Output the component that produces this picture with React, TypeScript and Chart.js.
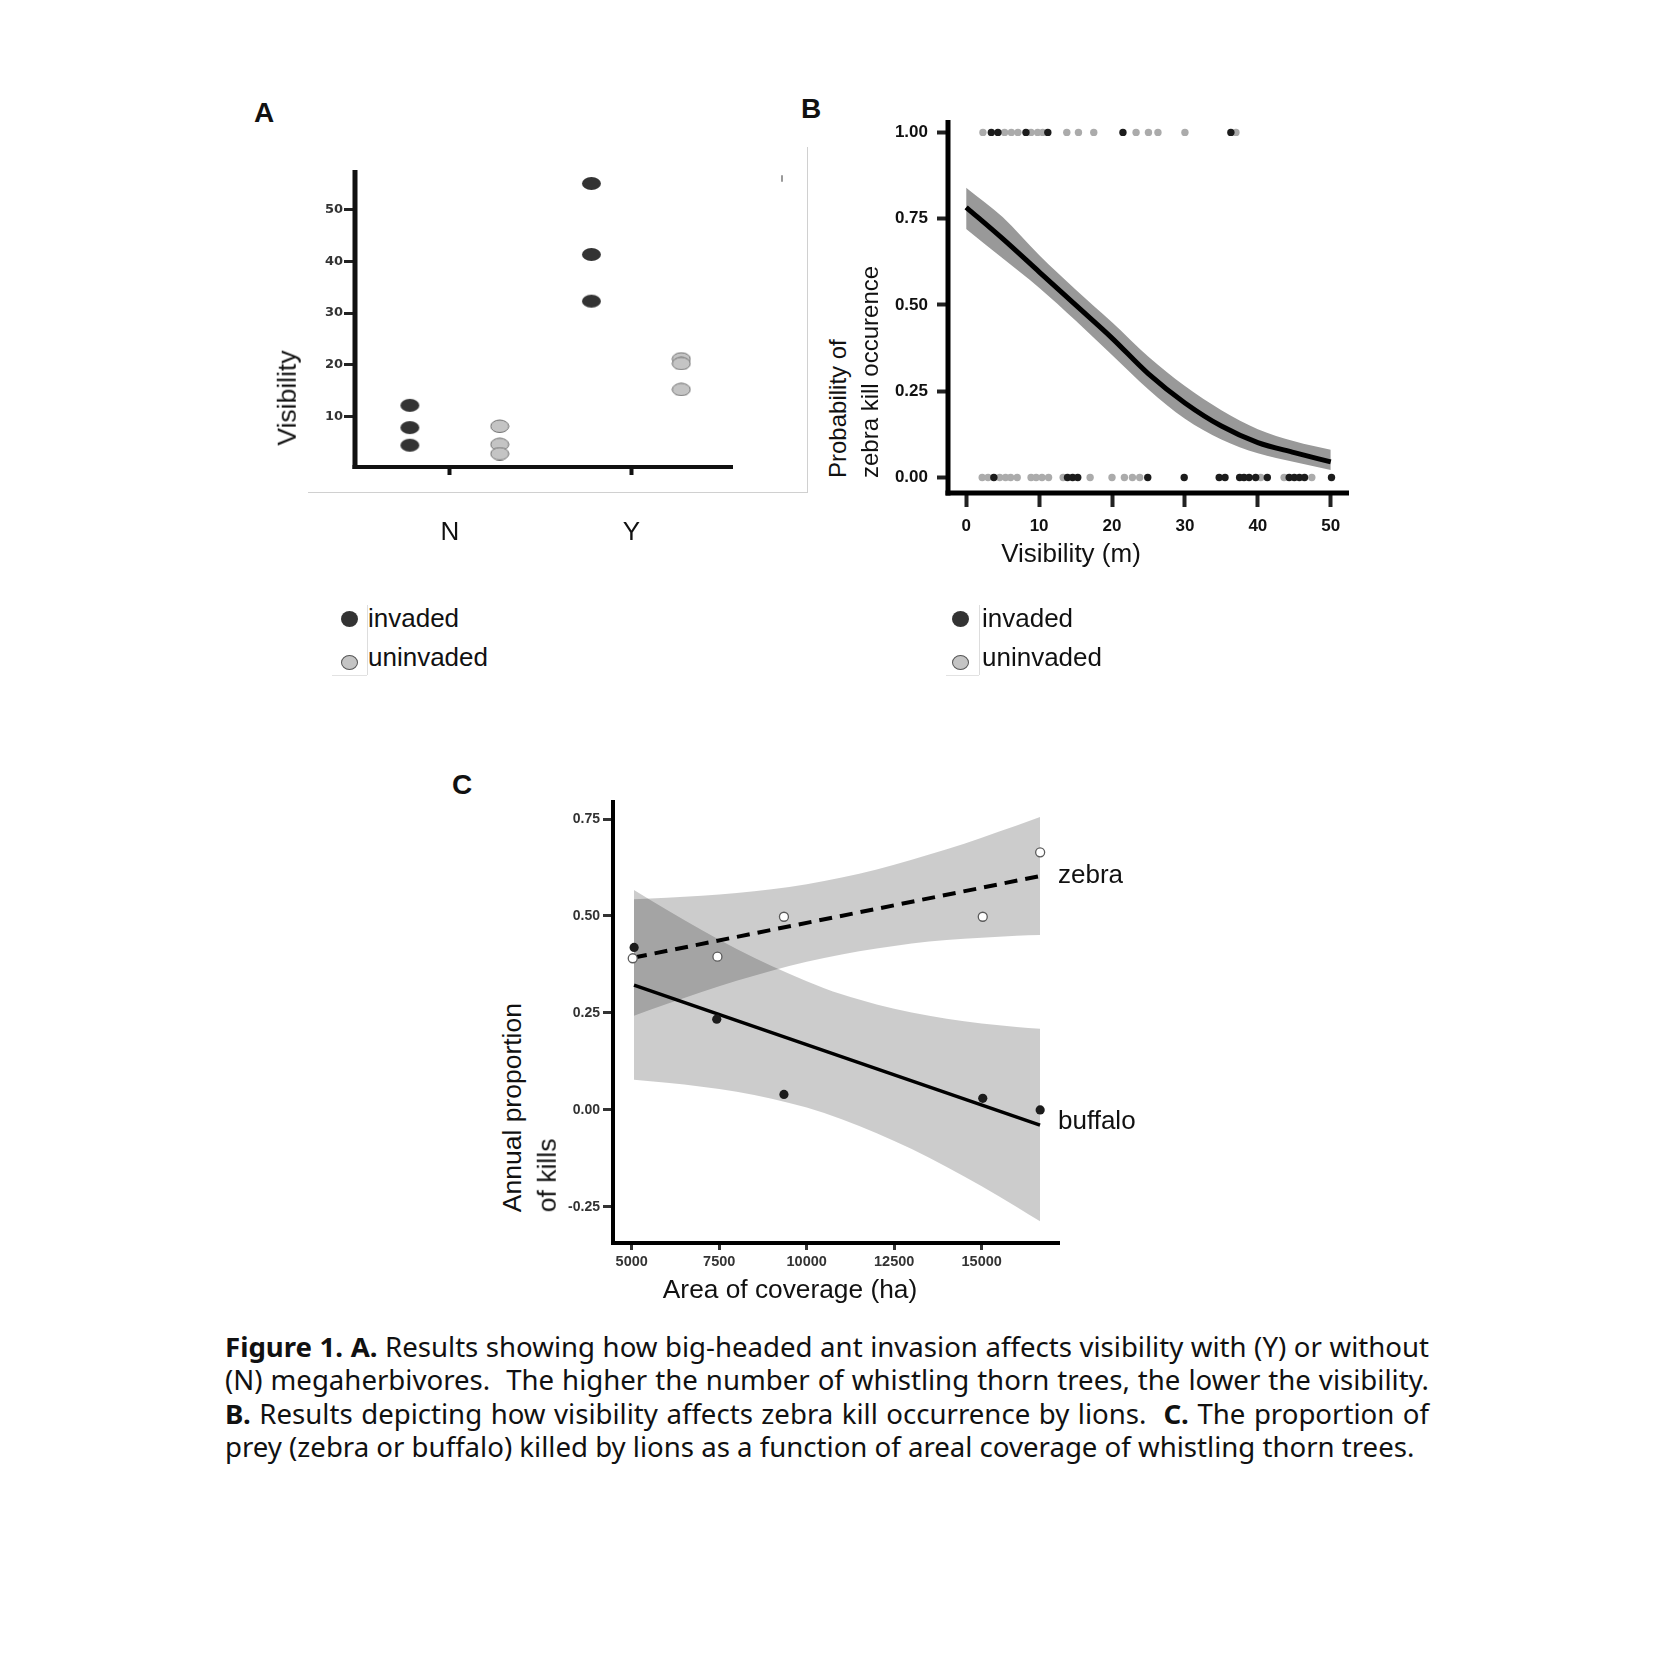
import React, { useEffect, useRef } from 'react';
import { Chart, registerables } from 'chart.js';

Chart.register(...registerables);

// ---------------- Panel A data ----------------
const groupsA = ['N', 'Y'];
const groupPosA = [1, 2];
const invadedN = [12.2, 7.9, 4.5];
const invadedY = [55.0, 41.3, 32.3];
const uninvadedN = [8.2, 4.7, 2.9];
const uninvadedY = [21.2, 20.3, 15.3];
const yTicksA = [10, 20, 30, 40, 50];

// ---------------- Panel B data ----------------
const visX = [0, 5, 10, 15, 20, 25, 30, 35, 40, 45, 50];
const fitB = [0.783, 0.692, 0.596, 0.5, 0.404, 0.3, 0.216, 0.149, 0.101, 0.072, 0.045];
const upperB = [0.84, 0.755, 0.645, 0.545, 0.45, 0.35, 0.265, 0.195, 0.14, 0.105, 0.08];
const lowerB = [0.72, 0.635, 0.55, 0.455, 0.355, 0.255, 0.17, 0.11, 0.07, 0.045, 0.022];
const killInvaded = [3.45, 4.36, 8.2, 11.2, 21.5, 36.3];
const killUninvaded = [2.3, 5.27, 6.2, 7.1, 8.9, 9.8, 10.5, 13.8, 15.4, 17.5, 23.3, 25.0, 26.3, 30.0, 37.0];
const noKillInvaded = [3.8, 13.9, 14.6, 15.3, 24.9, 29.9, 34.7, 35.5, 37.5, 38.1, 38.8, 39.7, 41.3, 44.3, 45.0, 45.7, 46.4, 50.1];
const noKillUninvaded = [2.2, 3.0, 4.6, 5.4, 6.1, 7.0, 8.9, 9.6, 10.4, 11.3, 13.3, 17.0, 20.0, 21.7, 22.8, 23.8, 40.4, 43.6, 47.4];
const xTicksB = [0, 10, 20, 30, 40, 50];
const yTicksB = [0, 0.25, 0.5, 0.75, 1];

// ---------------- Panel C data ----------------
const coverageZebra = [5030, 7450, 9350, 15030, 16670];
const zebraProp = [0.391, 0.395, 0.498, 0.498, 0.664];
const coverageBuffalo = [5070, 7430, 9350, 15030, 16670];
const buffaloProp = [0.419, 0.234, 0.04, 0.03, 0.0];
const fitXC = [5066, 16666];
const zebraFit = [0.393, 0.603];
const buffaloFit = [0.322, -0.039];
const bandXC = [5066, 6000, 7000, 8000, 9000, 10000, 11000, 12000, 13000, 14000, 15000, 16000, 16666];
const zebraUpper = [0.543, 0.547, 0.552, 0.559, 0.569, 0.582, 0.599, 0.62, 0.645, 0.672, 0.702, 0.733, 0.755];
const zebraLower = [0.243, 0.273, 0.304, 0.333, 0.359, 0.382, 0.401, 0.416, 0.429, 0.438, 0.444, 0.449, 0.451];
const buffaloUpper = [0.567, 0.516, 0.464, 0.415, 0.371, 0.332, 0.298, 0.272, 0.251, 0.235, 0.223, 0.214, 0.209];
const buffaloLower = [0.078, 0.07, 0.06, 0.047, 0.029, 0.006, -0.024, -0.06, -0.101, -0.147, -0.197, -0.25, -0.287];
const xTicksC = [5000, 7500, 10000, 12500, 15000];
const yTicksC = [-0.25, 0, 0.25, 0.5, 0.75];

// ---------------- helpers ----------------
const ARIAL = '"Liberation Sans", Arial, Helvetica, sans-serif';
const DEJAVU = '"DejaVu Sans", Verdana, sans-serif';
const DODGE_INV = -0.22;
const DODGE_UNINV = 0.275;

const axisLinePlugin = {
  id: 'axisLines',
  afterDraw(chart: any, _args: any, opts: any) {
    const { ctx, chartArea } = chart;
    const { left, right, top, bottom } = chartArea;
    ctx.save();
    ctx.strokeStyle = opts.color || '#000';
    ctx.lineCap = 'butt';
    ctx.lineWidth = opts.yWidth;
    ctx.beginPath();
    ctx.moveTo(left, top);
    ctx.lineTo(left, bottom + opts.xWidth / 2);
    ctx.stroke();
    ctx.lineWidth = opts.xWidth;
    ctx.beginPath();
    ctx.moveTo(left - opts.yWidth / 2, bottom);
    ctx.lineTo(right, bottom);
    ctx.stroke();
    ctx.restore();
  },
};

function ellipseStyle(w: number, h: number, fill: string, stroke?: string) {
  const c = document.createElement('canvas');
  c.width = w + 2;
  c.height = h + 2;
  const g = c.getContext('2d') as CanvasRenderingContext2D;
  g.beginPath();
  g.ellipse((w + 2) / 2, (h + 2) / 2, w / 2, h / 2, 0, 0, Math.PI * 2);
  g.fillStyle = fill;
  g.fill();
  if (stroke) {
    g.lineWidth = 1;
    g.strokeStyle = stroke;
    g.stroke();
  }
  return c;
}

type Rect = { x: number; y: number; w: number; h: number };
type Area = { l: number; t: number; r: number; b: number };

function baseOptions(rect: Rect, area: Area, axisOpts: any) {
  return {
    animation: false,
    responsive: false,
    maintainAspectRatio: false,
    devicePixelRatio: 1,
    events: [],
    layout: {
      padding: { left: 0, top: area.t - rect.y, right: rect.x + rect.w - area.r, bottom: 0 },
    },
    plugins: {
      legend: { display: false },
      tooltip: { enabled: false },
      filler: { drawTime: 'beforeDatasetsDraw' },
      axisLines: axisOpts,
    },
  };
}

function axis(o: any) {
  return {
    type: 'linear',
    min: o.min,
    max: o.max,
    afterBuildTicks: (s: any) => {
      s.ticks = o.ticks.map((v: number) => ({ value: v }));
    },
    afterFit: (s: any) => {
      if (o.isX) s.height = o.size;
      else s.width = o.size;
    },
    border: { display: false },
    grid: {
      display: true,
      drawOnChartArea: false,
      drawTicks: true,
      tickLength: o.tickLength,
      tickWidth: o.tickWidth,
      tickColor: o.tickColor,
    },
    ticks: {
      autoSkip: false,
      maxRotation: 0,
      minRotation: 0,
      padding: o.padding,
      color: o.color,
      font: o.font,
      callback: o.callback,
    },
  };
}

function ChartCanvas({ rect, build }: { rect: Rect; build: () => any }) {
  const ref = useRef<HTMLCanvasElement | null>(null);
  useEffect(() => {
    if (!ref.current) return;
    const chart = new Chart(ref.current, build());
    return () => chart.destroy();
  }, []);
  return (
    <canvas
      ref={ref}
      width={rect.w}
      height={rect.h}
      style={{ position: 'absolute', left: rect.x, top: rect.y, width: rect.w, height: rect.h }}
    />
  );
}

// ---------------- Panel A ----------------
const rectA: Rect = { x: 290, y: 140, w: 470, h: 420 };
const areaA: Area = { l: 355, t: 170, r: 733, b: 467 };

function buildA() {
  const inv = ellipseStyle(19, 13, '#333333');
  const un = ellipseStyle(18, 12.5, '#c4c4c4', '#6e6e6e');
  const pts = (vals: number[], gi: number, dodge: number) =>
    vals.map((v) => ({ x: groupPosA[gi] + dodge, y: v }));
  return {
    type: 'line',
    data: {
      datasets: [
        {
          label: 'invaded',
          data: [...pts(invadedN, 0, DODGE_INV), ...pts(invadedY, 1, DODGE_INV)],
          showLine: false,
          pointStyle: inv,
          pointRadius: 9,
        },
        {
          label: 'uninvaded',
          data: [...pts(uninvadedN, 0, DODGE_UNINV), ...pts(uninvadedY, 1, DODGE_UNINV)],
          showLine: false,
          pointStyle: un,
          pointRadius: 9,
        },
      ],
    },
    options: {
      ...baseOptions(rectA, areaA, { yWidth: 5, xWidth: 4, color: '#111' }),
      scales: {
        x: axis({
          isX: true, size: rectA.y + rectA.h - areaA.b, min: 0.478, max: 2.56, ticks: groupPosA,
          tickLength: 8, tickWidth: 4, tickColor: '#111', padding: 42, color: '#111',
          font: { family: ARIAL, size: 26 },
          callback: (v: number) => groupsA[groupPosA.indexOf(v)],
        }),
        y: axis({
          isX: false, size: areaA.l - rectA.x, min: 0.3, max: 57.6, ticks: yTicksA,
          tickLength: 11, tickWidth: 3, tickColor: '#222', padding: 1, color: '#333',
          font: { family: DEJAVU, size: 13, weight: 'bold' },
          callback: (v: number) => String(v),
        }),
      },
    },
    plugins: [axisLinePlugin],
  };
}

// ---------------- Panel B ----------------
const rectB: Rect = { x: 880, y: 95, w: 500, h: 470 };
const areaB: Area = { l: 948, t: 120, r: 1349, b: 493 };

function buildB() {
  const xy = (xs: number[], ys: number[]) => xs.map((x, i) => ({ x, y: ys[i] }));
  const rug = (xs: number[], y: number) => xs.map((x) => ({ x, y }));
  return {
    type: 'line',
    data: {
      datasets: [
        { label: 'invaded kill', data: rug(killInvaded, 1), showLine: false, pointRadius: 3.7, pointBackgroundColor: '#1c1c1c', pointBorderWidth: 0, order: 0 },
        { label: 'invaded no kill', data: rug(noKillInvaded, 0), showLine: false, pointRadius: 3.7, pointBackgroundColor: '#1c1c1c', pointBorderWidth: 0, order: 0 },
        { label: 'uninvaded kill', data: rug(killUninvaded, 1), showLine: false, pointRadius: 3.7, pointBackgroundColor: '#ababab', pointBorderWidth: 0, order: 1 },
        { label: 'uninvaded no kill', data: rug(noKillUninvaded, 0), showLine: false, pointRadius: 3.7, pointBackgroundColor: '#ababab', pointBorderWidth: 0, order: 1 },
        { label: 'fit', data: xy(visX, fitB), borderColor: '#000', borderWidth: 5, pointRadius: 0, tension: 0.4, cubicInterpolationMode: 'monotone', fill: false, order: 2 },
        { label: 'upper', data: xy(visX, upperB), borderWidth: 0, pointRadius: 0, cubicInterpolationMode: 'monotone', fill: '+1', backgroundColor: '#999999', order: 3 },
        { label: 'lower', data: xy(visX, lowerB), borderWidth: 0, pointRadius: 0, cubicInterpolationMode: 'monotone', fill: false, order: 3 },
      ],
    },
    options: {
      ...baseOptions(rectB, areaB, { yWidth: 5, xWidth: 5, color: '#000' }),
      scales: {
        x: axis({
          isX: true, size: rectB.y + rectB.h - areaB.b, min: -2.49, max: 52.5, ticks: xTicksB,
          tickLength: 14, tickWidth: 4, tickColor: '#222', padding: 9, color: '#111',
          font: { family: ARIAL, size: 17, weight: 'bold' },
          callback: (v: number) => String(v),
        }),
        y: axis({
          isX: false, size: areaB.l - rectB.x, min: -0.045, max: 1.036, ticks: yTicksB,
          tickLength: 11, tickWidth: 4, tickColor: '#222', padding: 9, color: '#111',
          font: { family: ARIAL, size: 17, weight: 'bold' },
          callback: (v: number) => v.toFixed(2),
        }),
      },
    },
    plugins: [axisLinePlugin],
  };
}

// ---------------- Panel C ----------------
const rectC: Rect = { x: 560, y: 780, w: 520, h: 500 };
const areaC: Area = { l: 613, t: 800, r: 1060, b: 1243 };

function buildC() {
  const xy = (xs: number[], ys: number[]) => xs.map((x, i) => ({ x, y: ys[i] }));
  const band = 'rgba(0,0,0,0.2)';
  return {
    type: 'line',
    data: {
      datasets: [
        { label: 'zebra', data: xy(coverageZebra, zebraProp), showLine: false, pointRadius: 4.5, pointBackgroundColor: '#ffffff', pointBorderColor: '#5a5a5a', pointBorderWidth: 1.3, order: 0 },
        { label: 'buffalo', data: xy(coverageBuffalo, buffaloProp), showLine: false, pointRadius: 4.6, pointBackgroundColor: '#1c1c1c', pointBorderWidth: 0, order: 0 },
        { label: 'zebra fit', data: xy(fitXC, zebraFit), borderColor: '#000', borderWidth: 4, borderDash: [13, 8], pointRadius: 0, fill: false, order: 1 },
        { label: 'buffalo fit', data: xy(fitXC, buffaloFit), borderColor: '#000', borderWidth: 3.5, pointRadius: 0, fill: false, order: 1 },
        { label: 'zebra upper', data: xy(bandXC, zebraUpper), borderWidth: 0, pointRadius: 0, cubicInterpolationMode: 'monotone', fill: '+1', backgroundColor: band, order: 2 },
        { label: 'zebra lower', data: xy(bandXC, zebraLower), borderWidth: 0, pointRadius: 0, cubicInterpolationMode: 'monotone', fill: false, order: 2 },
        { label: 'buffalo upper', data: xy(bandXC, buffaloUpper), borderWidth: 0, pointRadius: 0, cubicInterpolationMode: 'monotone', fill: '+1', backgroundColor: band, order: 2 },
        { label: 'buffalo lower', data: xy(bandXC, buffaloLower), borderWidth: 0, pointRadius: 0, cubicInterpolationMode: 'monotone', fill: false, order: 2 },
      ],
    },
    options: {
      ...baseOptions(rectC, areaC, { yWidth: 4, xWidth: 4, color: '#000' }),
      scales: {
        x: axis({
          isX: true, size: rectC.y + rectC.h - areaC.b, min: 4466, max: 17237, ticks: xTicksC,
          tickLength: 7, tickWidth: 3, tickColor: '#333', padding: 3, color: '#333',
          font: { family: ARIAL, size: 14.5, weight: 'bold' },
          callback: (v: number) => String(v),
        }),
        y: axis({
          isX: false, size: areaC.l - rectC.x, min: -0.343, max: 0.799, ticks: yTicksC,
          tickLength: 10, tickWidth: 3, tickColor: '#333', padding: 3, color: '#333',
          font: { family: ARIAL, size: 14, weight: 'bold' },
          callback: (v: number) => v.toFixed(2),
        }),
      },
    },
    plugins: [axisLinePlugin],
  };
}

// ---------------- HTML text helpers ----------------
function Txt({ x, y, size, children, weight = 400, family = ARIAL, color = '#111', anchor = 'center' }: any) {
  const style: any = {
    position: 'absolute', left: x, top: y, fontFamily: family, fontSize: size, fontWeight: weight,
    color, lineHeight: 1, whiteSpace: 'nowrap',
    transform: anchor === 'center' ? 'translate(-50%,-50%)' : 'translate(0,-50%)',
  };
  return <div style={style}>{children}</div>;
}

function VTxt({ x, y, size, children, color = '#111', anchor = 'start' }: any) {
  const style: any = {
    position: 'absolute', fontFamily: ARIAL, fontSize: size, color, lineHeight: 1, whiteSpace: 'nowrap',
  };
  if (anchor === 'center') {
    style.left = x;
    style.top = y;
    style.transform = 'translate(-50%,-50%) rotate(-90deg)';
  } else {
    style.left = x;
    style.top = y - size / 2;
    style.transformOrigin = '0 50%';
    style.transform = 'rotate(-90deg)';
  }
  return <div style={style}>{children}</div>;
}

function Dot({ x, y, w, h, fill, stroke }: any) {
  return (
    <div
      style={{
        position: 'absolute', left: x - w / 2, top: y - h / 2, width: w, height: h, borderRadius: '50%',
        background: fill, boxSizing: 'border-box', border: stroke ? `1.3px solid ${stroke}` : 'none',
      }}
    />
  );
}

function Legend({ dotX, textX, lineX, lineLeft }: any) {
  return (
    <>
      <Dot x={dotX} y={619} w={17} h={16} fill="#333333" />
      <Dot x={dotX} y={662} w={17} h={15} fill="#c4c4c4" stroke="#555" />
      <Txt x={textX} y={618} size={26} anchor="start">invaded</Txt>
      <Txt x={textX} y={657} size={26} anchor="start">uninvaded</Txt>
      <div style={{ position: 'absolute', left: lineX, top: 605, width: 1, height: 70, background: '#dddddd' }} />
      <div style={{ position: 'absolute', left: lineLeft, top: 675, width: lineX - lineLeft, height: 1, background: '#e2e2e2' }} />
    </>
  );
}

const captionLines = [
  [<b key="a">Figure 1. A.</b>, ' Results showing how big-headed ant invasion affects visibility with (Y) or without'],
  ['(N) megaherbivores.\u00a0 The higher the number of whistling thorn trees, the lower the visibility.'],
  [<b key="b">B.</b>, ' Results depicting how visibility affects zebra kill occurrence by lions.\u00a0 ', <b key="c">C.</b>, ' The proportion of'],
  ['prey (zebra or buffalo) killed by lions as a function of areal coverage of whistling thorn trees.'],
];

export default function App() {
  return (
    <div style={{ position: 'absolute', left: 0, top: 0, width: 1654, height: 1672, overflow: 'hidden', background: '#fff' }}>
      {/* Panel A frame */}
      <div style={{ position: 'absolute', left: 308, top: 492, width: 499, height: 1, background: '#d0d0d0' }} />
      <div style={{ position: 'absolute', left: 807, top: 147, width: 1, height: 346, background: '#d0d0d0' }} />
      <div style={{ position: 'absolute', left: 781, top: 175, width: 2, height: 7, borderRadius: 2, background: '#9a9a9a' }} />

      <ChartCanvas rect={rectA} build={buildA} />
      <ChartCanvas rect={rectB} build={buildB} />
      <ChartCanvas rect={rectC} build={buildC} />

      {/* panel letters */}
      <Txt x={264} y={113} size={28} weight={700}>A</Txt>
      <Txt x={811} y={109} size={28} weight={700}>B</Txt>
      <Txt x={462} y={785} size={28} weight={700}>C</Txt>

      {/* Panel A titles */}
      <VTxt x={287} y={398} size={26.5} anchor="center">Visibility</VTxt>

      {/* Panel B titles */}
      <VTxt x={838} y={478} size={24}>Probability of</VTxt>
      <VTxt x={869.5} y={478} size={24}>zebra kill occurence</VTxt>
      <Txt x={1071} y={553} size={26}>Visibility (m)</Txt>

      {/* Legends */}
      <Legend dotX={349} textX={368} lineX={367} lineLeft={332} />
      <Legend dotX={960} textX={982} lineX={979} lineLeft={946} />

      {/* Panel C titles */}
      <VTxt x={512} y={1212} size={26.5}>Annual proportion</VTxt>
      <VTxt x={547} y={1212} size={26.5}>of kills</VTxt>
      <Txt x={790} y={1289} size={26.3}>Area of coverage (ha)</Txt>
      <Txt x={1058} y={874} size={26} anchor="start">zebra</Txt>
      <Txt x={1058} y={1120} size={26} anchor="start">buffalo</Txt>

      {/* Caption */}
      <div
        style={{
          position: 'absolute', left: 225, top: 1330, width: 1204, fontFamily: '"Noto Sans", sans-serif',
          fontSize: 27.6, lineHeight: '33.4px', color: '#111',
        }}
      >
        {captionLines.map((parts, i) => (
          <div
            key={i}
            style={{
              whiteSpace: 'nowrap',
              textAlign: i < 3 ? 'justify' : 'left',
              textAlignLast: i < 3 ? 'justify' : 'left',
            } as any}
          >
            {parts}
          </div>
        ))}
      </div>
    </div>
  );
}
